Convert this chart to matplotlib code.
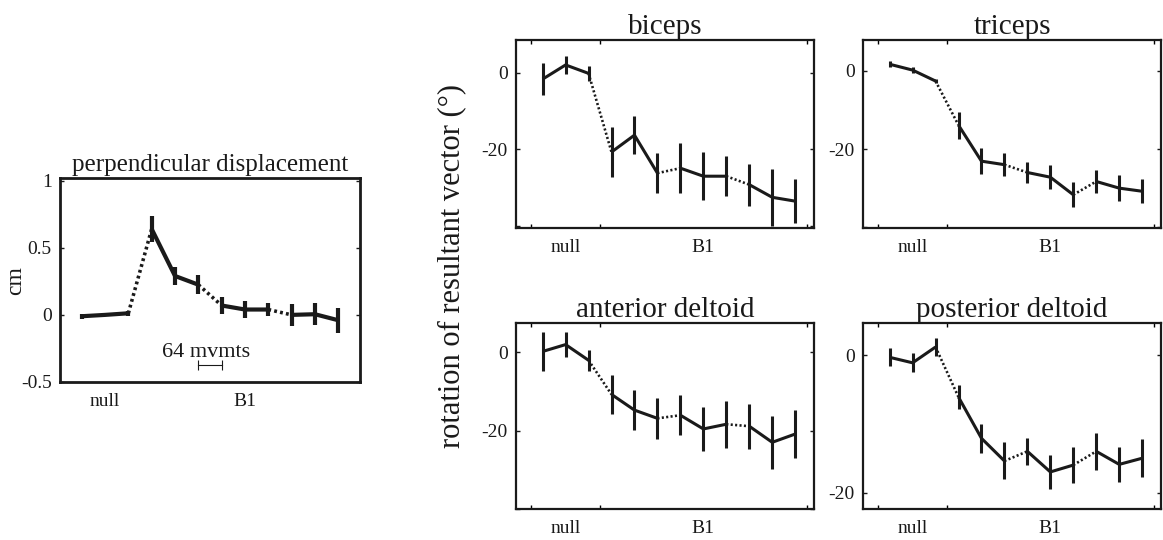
import matplotlib
matplotlib.use("Agg")
import matplotlib.pyplot as plt

plt.rcParams['font.family'] = ['Liberation Serif', 'DejaVu Serif']

# trial index (4 blocks of 3 points: null, then three B1 blocks)
trial = [1, 2, 3, 4, 5, 6, 7, 8, 9, 10, 11, 12]
block_edges = [0.5, 3.5, 12.5]
block_names = ['null', 'B1']
block_label_pos = [2, 8]

# perpendicular displacement (cm)
perp_mean = [-0.01, 0.0, 0.012, 0.64, 0.29, 0.225, 0.07, 0.04, 0.04, 0.0, 0.005, -0.04]
perp_err = [0.02, 0.0, 0.02, 0.1, 0.07, 0.07, 0.06, 0.065, 0.05, 0.08, 0.08, 0.095]

# rotation of resultant vector (deg)
bic_mean = [-1.7, 2.0, -0.2, -20.7, -16.3, -26.2, -24.9, -27.0, -27.0, -29.2, -32.5, -33.5]
bic_err = [4.1, 2.4, 2.0, 6.5, 5.0, 5.3, 6.6, 6.2, 5.2, 5.5, 7.4, 5.7]
tri_mean = [1.7, 0.2, -2.6, -13.9, -23.1, -24.0, -26.0, -27.2, -31.7, -28.3, -30.0, -30.8]
tri_err = [0.7, 0.7, 0.6, 3.5, 3.3, 2.9, 2.6, 3.0, 3.2, 2.9, 3.3, 3.1]
ant_mean = [0.15, 1.9, -2.1, -10.8, -14.8, -16.9, -16.1, -19.6, -18.4, -18.9, -23.0, -20.9]
ant_err = [5.0, 3.2, 2.7, 4.9, 5.1, 5.3, 5.1, 5.6, 6.0, 5.7, 6.8, 6.1]
post_mean = [-0.3, -1.1, 1.2, -6.1, -12.1, -15.4, -14.0, -17.0, -16.0, -14.0, -15.9, -15.0]
post_err = [1.3, 1.4, 1.3, 1.8, 2.1, 2.7, 2.0, 2.5, 2.6, 2.7, 2.6, 2.8]

INK = '#1a1a1a'


def draw_series(ax, x, y, err, lw):
    ax.errorbar(x, y, yerr=err, fmt='none', ecolor=INK, elinewidth=lw, capsize=0)
    # solid inside each block of 3, dotted between blocks
    for b in range(0, len(x), 3):
        ax.plot(x[b:b + 3], y[b:b + 3], '-', color=INK, lw=lw, solid_capstyle='butt')
        if b + 3 < len(x):
            ax.plot(x[b + 2:b + 4], y[b + 2:b + 4], color=INK, lw=lw * 0.85,
                    linestyle=(0, (0.8, 0.9)), dash_capstyle='butt')


def style_axes(ax, lw=1.6):
    for s in ax.spines.values():
        s.set_linewidth(lw)
        s.set_color(INK)
    ax.tick_params(direction='in', length=3, width=1, top=True, right=True,
                   labelsize=14, pad=6, colors=INK)
    ax.set_xticks(block_label_pos, block_names)
    ax.tick_params(axis='x', which='major', length=0, pad=8)


fig = plt.figure(figsize=(11.63, 5.4), dpi=100)

# left panel
ax0 = fig.add_axes([60 / 1163, 1 - 382 / 540, 300 / 1163, 204 / 540])
draw_series(ax0, trial, perp_mean, perp_err, 3.0)
ax0.plot([6, 7], [-0.375, -0.375], color=INK, lw=0.8, marker='|', ms=7, mew=0.8)
ax0.text(6.33, -0.315, '64 mvmts', ha='center', va='baseline', fontsize=16, color=INK)
ax0.set_xlim(0.07, 12.93)
ax0.set_ylim(-0.5, 1.02)
ax0.set_yticks([-0.5, 0, 0.5, 1], ['-0.5', '0', '0.5', '1'])
style_axes(ax0, 2.0)
ax0.set_title('perpendicular displacement', fontsize=18, pad=5, color=INK)
fig.text(16 / 1163, 1 - 281 / 540, 'cm', rotation=90, ha='center', va='center',
         fontsize=17, color=INK)

# right panels
panels = [
    ('biceps', bic_mean, bic_err, (516, 40), (-40.5, 8.5), [-40, -20, 0]),
    ('triceps', tri_mean, tri_err, (863, 40), (-40.2, 7.9), [-40, -20, 0]),
    ('anterior deltoid', ant_mean, ant_err, (516, 323), (-35.3, 7.4), [-40, -20, 0]),
    ('posterior deltoid', post_mean, post_err, (863, 323), (-22.4, 4.7), [-20, 0]),
]
for title, mean, err, (px, py), ylim, yt in panels:
    h = 188 if py < 100 else 186
    ax = fig.add_axes([px / 1163, 1 - (py + h) / 540, 298 / 1163, h / 540])
    draw_series(ax, trial, mean, err, 2.2)
    ax.set_xlim(-0.16, 12.82)
    ax.set_ylim(*ylim)
    ax.set_yticks(yt, ['' if v == -40 else str(v) for v in yt])
    style_axes(ax)
    ax.set_xticks(block_edges, minor=True)
    ax.tick_params(axis='x', which='minor', direction='in', length=3, width=1,
                   top=True, bottom=True)
    ax.set_title(title, fontsize=21, pad=4, color=INK)

fig.text(452 / 1163, 1 - 266.5 / 540, 'rotation of resultant vector (°)', rotation=90,
         ha='center', va='center', fontsize=22, color=INK)

fig.savefig('out.png', dpi=100, facecolor='white')
